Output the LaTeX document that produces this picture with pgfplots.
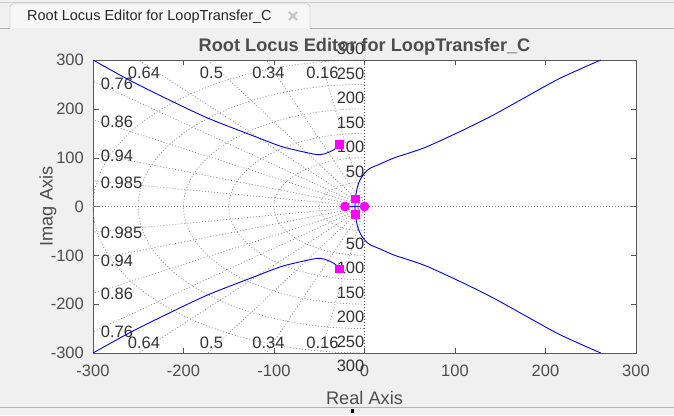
\documentclass[border=0pt]{standalone}
\usepackage{fontspec}
\setmainfont{Liberation Sans}
\usepackage{pgfplots}
\pgfplotsset{compat=1.18}
\definecolor{bg}{HTML}{F0F0F0}
\definecolor{txt}{HTML}{4D4D4D}
\definecolor{gridc}{HTML}{8C8C8C}
\definecolor{locus}{HTML}{0000E0}
\definecolor{cl}{HTML}{FF00FF}
\begin{document}
\begin{tikzpicture}[x=1pt,y=1pt]
\fill[bg] (0,0) rectangle (674,415);
\useasboundingbox (0,0) rectangle (674,415);
% tab strip
\draw[black!20] (0,413) -- (674,413);
\draw[black!30, fill=white!97!black, rounded corners=3pt] (10,387) -- (10,411) -- (310,411) -- (310,387);
\draw[black!30] (0,387) -- (10,387) (310,387) -- (674,387);
\node[anchor=west, inner sep=0, font=\fontsize{14.5}{17}\selectfont, text=black!85] at (27,398.5) {Root Locus Editor for LoopTransfer\_C};
\draw[line width=2.2pt, black!22] (289,395) -- (297,403) (289,403) -- (297,395);
% bottom strip
\draw[black!30] (0,8) -- (674,8);
\fill[black] (351,2) rectangle (354,6);
\begin{axis}[
  at={(93pt,62pt)}, anchor=south west,
  scale only axis, width=543pt, height=293pt,
  xmin=-300, xmax=300, ymin=-300, ymax=300,
  xtick={-300,-200,-100,0,100,200,300},
  ytick={-300,-200,-100,0,100,200,300},
  clip=false,
  axis background/.style={fill=white},
  axis line style={black!65},
  tick style={black!65},
  tick align=inside, major tick length=5.5pt,
  xtick pos=both, ytick pos=both,
  xticklabel pos=bottom, yticklabel pos=left,
  /pgf/number format/assume math mode=true,
  tick label style={font=\fontsize{16.5}{19}\selectfont, text=txt},
  xticklabel style={anchor=base, yshift=-23pt, inner sep=0pt},
  yticklabel style={anchor=east, xshift=-9pt, inner sep=0pt},
]
% s-grid
\begin{scope}[gridc, line width=0.7pt, dash pattern=on 1pt off 2pt]
\draw (axis cs:-300,0) -- (axis cs:300,0);
\draw (axis cs:0,50) arc[start angle=90, end angle=270, x radius=50, y radius=50];
\draw (axis cs:0,100) arc[start angle=90, end angle=270, x radius=100, y radius=100];
\draw (axis cs:0,150) arc[start angle=90, end angle=270, x radius=150, y radius=150];
\draw (axis cs:0,200) arc[start angle=90, end angle=270, x radius=200, y radius=200];
\draw (axis cs:0,250) arc[start angle=90, end angle=270, x radius=250, y radius=250];
\draw (axis cs:0,300) arc[start angle=90, end angle=270, x radius=300, y radius=300];
\draw (axis cs:0,0) -- (axis cs:-48.63,300);
\draw (axis cs:0,0) -- (axis cs:-108.46,300);
\draw (axis cs:0,0) -- (axis cs:-173.21,300);
\draw (axis cs:0,0) -- (axis cs:-249.87,300);
\draw (axis cs:0,0) -- (axis cs:-300,256.5);
\draw (axis cs:0,0) -- (axis cs:-300,178.0);
\draw (axis cs:0,0) -- (axis cs:-300,108.9);
\draw (axis cs:0,0) -- (axis cs:-300,52.6);
\draw (axis cs:0,0) -- (axis cs:-48.63,-300);
\draw (axis cs:0,0) -- (axis cs:-108.46,-300);
\draw (axis cs:0,0) -- (axis cs:-173.21,-300);
\draw (axis cs:0,0) -- (axis cs:-249.87,-300);
\draw (axis cs:0,0) -- (axis cs:-300,-256.5);
\draw (axis cs:0,0) -- (axis cs:-300,-178.0);
\draw (axis cs:0,0) -- (axis cs:-300,-108.9);
\draw (axis cs:0,0) -- (axis cs:-300,-52.6);
\end{scope}
\draw[black!70, line width=0.7pt, dash pattern=on 1pt off 2pt] (axis cs:0,-300) -- (axis cs:0,300);
% grid labels
\begin{scope}[every node/.style={inner sep=0pt, font=\fontsize{16.5}{19}\selectfont, text=black!80}]
\node[anchor=base east] at ([yshift=5pt]axis cs:0,50) {50};
\node[anchor=base east] at ([yshift=5pt]axis cs:0,100) {100};
\node[anchor=base east] at ([yshift=5pt]axis cs:0,150) {150};
\node[anchor=base east] at ([yshift=5pt]axis cs:0,200) {200};
\node[anchor=base east] at ([yshift=5pt]axis cs:0,250) {250};
\node[anchor=base east] at ([yshift=5pt]axis cs:0,300) {300};
\node[anchor=base east] at ([yshift=-18.5pt]axis cs:0,-50) {50};
\node[anchor=base east] at ([yshift=-18.5pt]axis cs:0,-100) {100};
\node[anchor=base east] at ([yshift=-18.5pt]axis cs:0,-150) {150};
\node[anchor=base east] at ([yshift=-18.5pt]axis cs:0,-200) {200};
\node[anchor=base east] at ([yshift=-18.5pt]axis cs:0,-250) {250};
\node[anchor=base east] at ([yshift=-18.5pt]axis cs:0,-300) {300};
\node at (axis cs:-243.6,273.4) {0.64};
\node at (axis cs:-169.1,273.4) {0.5};
\node at (axis cs:-106.1,273.4) {0.34};
\node at (axis cs:-46.4,273.4) {0.16};
\node at (axis cs:-243.6,-278.9) {0.64};
\node at (axis cs:-169.1,-278.9) {0.5};
\node at (axis cs:-106.1,-278.9) {0.34};
\node at (axis cs:-46.4,-278.9) {0.16};
\node[anchor=west] at (axis cs:-291.5,250.3) {0.76};
\node[anchor=west] at (axis cs:-291.5,173.7) {0.86};
\node[anchor=west] at (axis cs:-291.5,103.4) {0.94};
\node[anchor=west] at (axis cs:-291.5,47.5) {0.985};
\node[anchor=west] at (axis cs:-291.5,-54.9) {0.985};
\node[anchor=west] at (axis cs:-291.5,-111.0) {0.94};
\node[anchor=west] at (axis cs:-291.5,-179.2) {0.86};
\node[anchor=west] at (axis cs:-291.5,-256.4) {0.76};
\end{scope}
% root locus branches
\addplot[locus, line width=0.9pt, smooth] coordinates {
(-28.2,127.4) (-30.7,121.2) (-34,116) (-38.1,112.2) (-44,108) (-49.2,106.1) (-56.6,107.5) (-75,115) (-93.4,123.9) (-130.2,149.9) (-174.4,182.0) (-220,222) (-260,259) (-300,300)};
\addplot[locus, line width=0.9pt, smooth] coordinates {
(-28.2,-127.4) (-30.7,-121.2) (-34,-116) (-38.1,-112.2) (-44,-108) (-49.2,-106.1) (-56.6,-107.5) (-75,-115) (-93.4,-123.9) (-130.2,-149.9) (-174.4,-182.0) (-220,-222) (-260,-259) (-300,-300)};
\addplot[locus, line width=0.9pt, smooth] coordinates {
(-10.5,0) (-10.3,15) (-9,30) (-7.5,42) (-5,54) (-2.5,62) (0,68) (3,74) (8,80) (16,86) (32,99) (50,110) (69,122.5) (105,153) (142,187) (179,225) (216,262.5) (261,300)};
\addplot[locus, line width=0.9pt, smooth] coordinates {
(-10.5,0) (-10.3,-15) (-9,-30) (-7.5,-42) (-5,-54) (-2.5,-62) (0,-68) (3,-74) (8,-80) (16,-86) (32,-99) (50,-110) (69,-122.5) (105,-153) (142,-187) (179,-225) (216,-262.5) (261,-300)};
\addplot[locus, line width=0.9pt] coordinates {(-21.5,0) (0,0)};
% closed-loop poles
\addplot[only marks, mark=square*, mark size=3.75pt, mark options={draw=cl, fill=cl}] coordinates {
(-28.2,127.4) (-28.2,-127.4) (-10.5,15.7) (-10.5,-15.7)};
\addplot[only marks, mark=*, mark size=4.6pt, mark options={draw=cl, fill=cl}] coordinates {
(-21.5,0) (0,0)};
\end{axis}
\node[anchor=base, inner sep=0, font=\bfseries\fontsize{18.2}{21}\selectfont, text=txt] at (364.5,363.5) {Root Locus Editor for LoopTransfer\_C};
\node[anchor=base, inner sep=0, font=\fontsize{18.2}{21}\selectfont, text=txt] at (364.5,10.5) {Real Axis};
\node[anchor=base, rotate=90, inner sep=0, font=\fontsize{18.2}{21}\selectfont, text=txt] at (52.5,208.5) {Imag Axis};
\end{tikzpicture}
\end{document}
